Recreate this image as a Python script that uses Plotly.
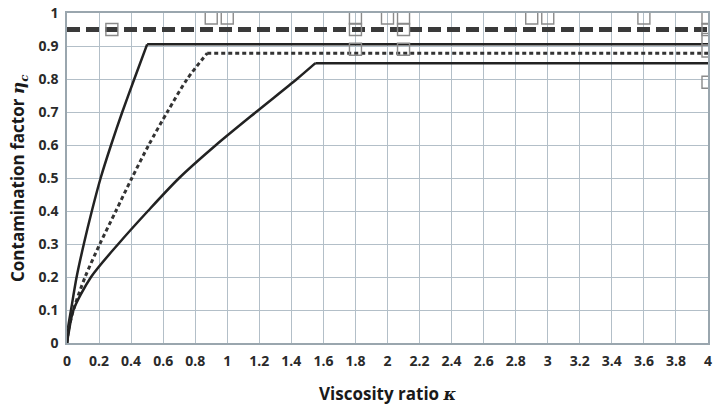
import plotly.graph_objects as go

# Upper solid curve (rising part, then plateau from the knee near kappa = 0.5)
k_solid1 = [0, 0.008, 0.025, 0.06, 0.105, 0.155, 0.21, 0.275, 0.345, 0.42, 0.5]
e_solid1 = [0, 0.05, 0.1, 0.2, 0.3, 0.4, 0.5, 0.6, 0.7, 0.8, 0.905]
k_solid1_flat = [0.5, 4]
e_solid1_flat = [0.905, 0.905]

# Dotted curve (knee near kappa = 0.87)
k_dot = [0, 0.01, 0.04, 0.113, 0.205, 0.305, 0.405, 0.51, 0.626, 0.75, 0.875]
e_dot = [0, 0.04, 0.1, 0.2, 0.3, 0.4, 0.5, 0.6, 0.7, 0.8, 0.878]
k_dot_flat = [0.875, 4]
e_dot_flat = [0.878, 0.878]

# Lower solid curve (knee near kappa = 1.55)
k_solid2 = [0, 0.01, 0.04, 0.15, 0.32, 0.505, 0.70, 0.93, 1.18, 1.435, 1.55]
e_solid2 = [0, 0.03, 0.1, 0.2, 0.3, 0.4, 0.5, 0.6, 0.7, 0.8, 0.848]
k_solid2_flat = [1.55, 4]
e_solid2_flat = [0.848, 0.848]

# Thick dashed reference level
k_dash = [0, 4]
e_dash = [0.95, 0.95]

# Open square data points
k_pts = [0.28, 0.9, 1.0, 1.8, 1.8, 1.8, 2.0, 2.1, 2.1, 2.1, 2.9, 3.0, 3.6, 4.0, 4.0, 4.0, 4.0, 4.0]
e_pts = [0.95, 0.985, 0.985, 0.985, 0.95, 0.89, 0.985, 0.985, 0.95, 0.89, 0.985, 0.985, 0.985, 0.985, 0.95, 0.92, 0.885, 0.79]

x_ticks = [0, 0.2, 0.4, 0.6, 0.8, 1, 1.2, 1.4, 1.6, 1.8, 2, 2.2, 2.4, 2.6, 2.8, 3, 3.2, 3.4, 3.6, 3.8, 4]
x_labels = ["0", "0.2", "0.4", "0.6", "0.8", "1", "1.2", "1.4", "1.6", "1.8", "2", "2.2", "2.4", "2.6", "2.8", "3", "3.2", "3.4", "3.6", "3.8", "4"]
y_ticks = [0, 0.1, 0.2, 0.3, 0.4, 0.5, 0.6, 0.7, 0.8, 0.9, 1]
y_labels = ["0", "0.1", "0.2", "0.3", "0.4", "0.5", "0.6", "0.7", "0.8", "0.9", "1"]

solid = dict(color="#222222", width=2.5)
dotted = dict(color="#333333", width=3, dash="4px,3px")

fig = go.Figure()
fig.add_trace(go.Scatter(x=k_dash, y=e_dash, mode="lines",
                         line=dict(color="#3a3a3a", width=5, dash="13px,6px")))
fig.add_trace(go.Scatter(x=k_solid1, y=e_solid1, mode="lines",
                         line=dict(shape="spline", smoothing=0.8, **solid)))
fig.add_trace(go.Scatter(x=k_solid1_flat, y=e_solid1_flat, mode="lines", line=solid))
fig.add_trace(go.Scatter(x=k_dot, y=e_dot, mode="lines",
                         line=dict(shape="spline", smoothing=0.8, **dotted)))
fig.add_trace(go.Scatter(x=k_dot_flat, y=e_dot_flat, mode="lines", line=dotted))
fig.add_trace(go.Scatter(x=k_solid2, y=e_solid2, mode="lines",
                         line=dict(shape="spline", smoothing=0.8, **solid)))
fig.add_trace(go.Scatter(x=k_solid2_flat, y=e_solid2_flat, mode="lines", line=solid))
fig.add_trace(go.Scatter(x=k_pts, y=e_pts, mode="markers",
                         marker=dict(symbol="square-open", size=12,
                                     color="#8a8a8a", line=dict(width=1.4, color="#8a8a8a"))))

tick_font = dict(family="Open Sans", size=14, color="#2a2a2a", weight="bold")
grid_c = "#b3bfc8"

fig.update_xaxes(range=[0, 4], tickvals=x_ticks, ticktext=x_labels,
                 showgrid=True, gridcolor=grid_c, gridwidth=1.2,
                 showline=True, linecolor="#9aa6ae", linewidth=1.5, mirror=True,
                 zeroline=False, ticks="", tickfont=tick_font, ticklabelstandoff=4,
                 ticklabeloverflow="allow")
fig.update_yaxes(range=[0, 1], tickvals=y_ticks, ticktext=y_labels,
                 showgrid=True, gridcolor=grid_c, gridwidth=1.2,
                 showline=True, linecolor="#9aa6ae", linewidth=1.5, mirror=True,
                 zeroline=False, ticks="", tickfont=tick_font, ticklabelstandoff=4,
                 ticklabeloverflow="allow")

title_font = dict(family="Open Sans", size=17, color="#1a1a1a", weight="bold")
fig.add_annotation(
    text="Viscosity ratio <span style=\"font-family:'DejaVu Serif'\"><i>κ</i></span>",
    xref="paper", yref="paper", x=0.5, y=0, yshift=-50, yanchor="middle",
    showarrow=False, font=title_font)
fig.add_annotation(
    text="Contamination factor <span style=\"font-family:'DejaVu Serif'\"><i>η</i><sub><i>c</i></sub></span>",
    xref="paper", yref="paper", x=0, xshift=-49, y=0.5, xanchor="center", yanchor="middle",
    textangle=-90, showarrow=False, font=title_font)

fig.update_layout(width=713, height=411, showlegend=False,
                  margin=dict(l=67, r=1, t=13, b=68),
                  plot_bgcolor="white", paper_bgcolor="white")

fig.write_html("out.html", config={"displayModeBar": False},
               post_script="document.body.style.margin='0';document.body.style.overflow='hidden';")
